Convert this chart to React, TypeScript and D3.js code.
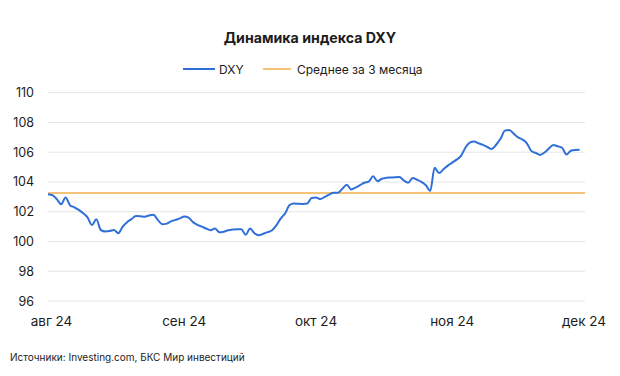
import React from "react";
import * as d3 from "d3";

const title = "Динамика индекса DXY";
const legendLabels = ["DXY", "Среднее за 3 месяца"];
const source = "Источники: Investing.com, БКС Мир инвестиций";
const startDate = new Date(2024, 7, 1);
const monthTicks = [new Date(2024, 7, 1), new Date(2024, 8, 1), new Date(2024, 9, 1), new Date(2024, 10, 1), new Date(2024, 11, 1)];
const monthLabels = ["авг 24", "сен 24", "окт 24", "ноя 24", "дек 24"];
const yTicks = [96, 98, 100, 102, 104, 106, 108, 110];
const avg3m = 103.26;
const dxy = [
  103.18, 103.11, 102.85, 102.5, 102.96, 102.44, 102.3, 102.12, 101.9, 101.62,
  101.1, 101.49, 100.78, 100.67, 100.7, 100.78, 100.56, 101.0, 101.3, 101.5,
  101.71, 101.7, 101.67, 101.75, 101.8, 101.45, 101.16, 101.2, 101.35, 101.45,
  101.55, 101.68, 101.6, 101.3, 101.12, 101.0, 100.87, 100.76, 100.87, 100.62,
  100.66, 100.75, 100.8, 100.83, 100.82, 100.45, 100.87, 100.55, 100.42, 100.52,
  100.63, 100.75, 101.1, 101.55, 101.9, 102.45, 102.55, 102.53, 102.52, 102.55,
  102.92, 102.95, 102.85, 103.0, 103.15, 103.27, 103.27, 103.55, 103.82, 103.5,
  103.62, 103.78, 103.95, 104.03, 104.38, 104.05, 104.22, 104.28, 104.3, 104.32,
  104.33, 104.1, 103.95, 104.27, 104.15, 104.0, 103.78, 103.4, 104.95, 104.6,
  104.85, 105.1, 105.3, 105.5, 105.75, 106.3, 106.65, 106.72, 106.6, 106.49,
  106.35, 106.22, 106.5, 106.9, 107.45, 107.5, 107.25, 107.0, 106.85, 106.6,
  106.09, 105.95, 105.82, 105.98, 106.25, 106.49, 106.4, 106.3, 105.85, 106.1,
  106.15, 106.16,
];

const W = 620;
const H = 376;
const FONT = "Inter, 'Noto Sans', sans-serif";
const BLUE = "#2f6fd8";
const ORANGE = "#f5c27a";
const GRID = "#e4e4e4";
const TEXT = "#1c1c1c";

export default function App() {
  const x = d3.scaleTime().domain([monthTicks[0], monthTicks[4]]).range([48, 584]);
  const y = d3.scaleLinear().domain([96, 110]).range([301, 92.7]);
  const pts = dxy.map((v, i) => ({ d: d3.timeDay.offset(startDate, i), v }));
  const line = d3
    .line<{ d: Date; v: number }>()
    .x((p) => x(p.d))
    .y((p) => y(p.v))
    .curve(d3.curveMonotoneX);

  return (
    <svg width={W} height={H} style={{ position: "absolute", left: 0, top: 0, background: "#fff" }} fontFamily={FONT}>
      <rect width={W} height={H} fill="#fff" />
      <text x={310} y={42.5} textAnchor="middle" fontSize={14.2} fontWeight={700} fill={TEXT}>
        {title}
      </text>
      <line x1={183} x2={215} y1={69} y2={69} stroke={BLUE} strokeWidth={2} />
      <text x={219} y={73.5} fontSize={12} fill={TEXT}>{legendLabels[0]}</text>
      <line x1={263} x2={291} y1={69} y2={69} stroke={ORANGE} strokeWidth={2} />
      <text x={297} y={73.5} fontSize={12} fill={TEXT}>{legendLabels[1]}</text>
      {yTicks.map((t) => (
        <g key={t}>
          <line x1={48} x2={585} y1={y(t)} y2={y(t)} stroke={GRID} strokeWidth={1} />
          <text x={34} y={y(t) + 4.5} textAnchor="end" fontSize={12.5} fill={TEXT}>
            {t}
          </text>
        </g>
      ))}
      {monthTicks.map((m, i) => (
        <text key={i} x={x(m) + (i === 0 ? 3.5 : 0)} y={326} textAnchor="middle" fontSize={13.5} fill={TEXT}>
          {monthLabels[i]}
        </text>
      ))}
      <line x1={48} x2={585} y1={y(avg3m)} y2={y(avg3m)} stroke={ORANGE} strokeWidth={2} />
      <path d={line(pts) || ""} fill="none" stroke={BLUE} strokeWidth={2} strokeLinejoin="round" />
      <text x={10} y={360.5} fontSize={10} fill={TEXT}>{source}</text>
    </svg>
  );
}
